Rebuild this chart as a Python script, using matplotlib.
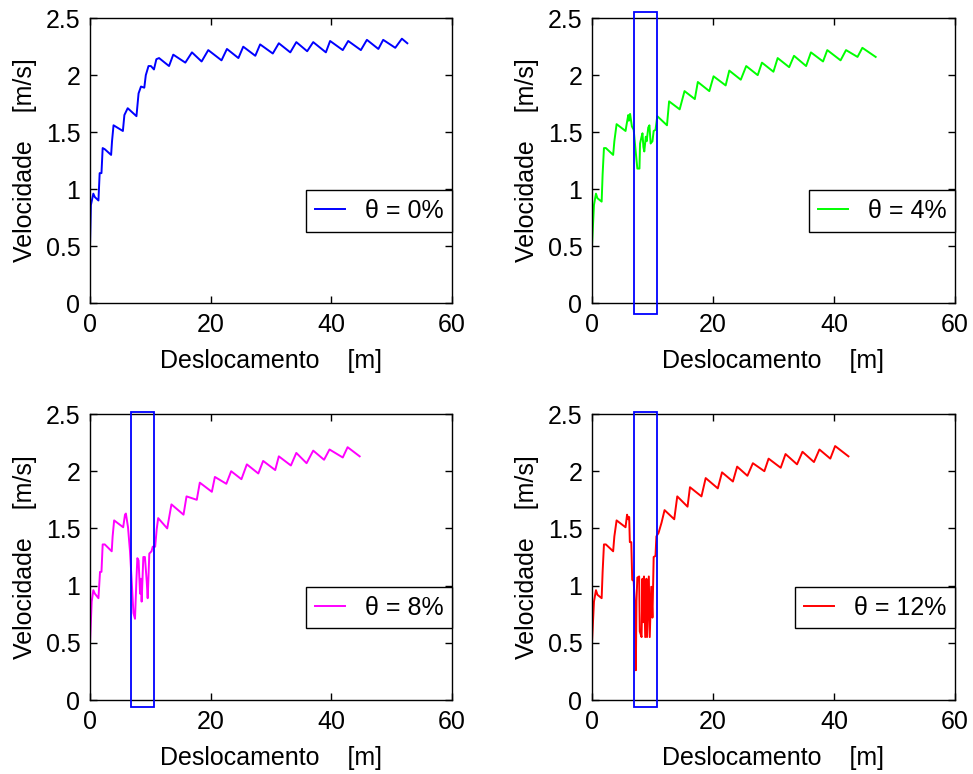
import matplotlib
matplotlib.use("Agg")
import matplotlib.pyplot as plt
from matplotlib.patches import Rectangle

plt.rcParams['font.family'] = ['Liberation Sans', 'DejaVu Sans']
plt.rcParams['font.size'] = 18

# ----------------------
# Data
# ----------------------
x0 = [0, 0, 0.15, 0.55, 0.8, 1.4, 1.6, 1.9, 2.1, 2.45, 3.5, 3.65, 3.9, 5.45, 5.7, 6.25,
      7.7, 8.05, 8.45, 9.0, 9.25, 9.7, 10.1, 10.6, 11.0, 11.45, 13.1, 13.8, 15.8, 16.9,
      18.5, 19.6, 21.8, 22.7, 24.6, 25.4, 27.4, 28.2, 30.3, 31.3, 33.2, 34.2, 36.0, 37.0,
      39.1, 39.8, 41.9, 42.8, 44.9, 45.9, 47.8, 48.6, 50.6, 51.7, 52.6]
v0 = [0, 0.5, 0.86, 0.96, 0.93, 0.90, 1.14, 1.14, 1.36, 1.35, 1.30, 1.42, 1.56, 1.51, 1.65, 1.71,
      1.64, 1.84, 1.90, 1.89, 2.00, 2.08, 2.08, 2.05, 2.14, 2.15, 2.08, 2.18, 2.11, 2.20,
      2.12, 2.22, 2.13, 2.23, 2.15, 2.25, 2.17, 2.27, 2.19, 2.28, 2.20, 2.29, 2.21, 2.29,
      2.20, 2.30, 2.22, 2.30, 2.22, 2.31, 2.23, 2.31, 2.24, 2.32, 2.28]

x4 = [0, 0, 0.33, 0.66, 0.9, 1.6, 1.76, 1.98, 2.3, 3.5, 3.7, 4.07, 5.55, 5.7, 6.0, 6.1, 6.3,
      6.6, 6.9, 7.1, 7.3, 7.5, 7.85, 7.95, 8.2, 8.35, 8.5, 8.65, 8.9, 9.05, 9.3, 9.5, 9.7,
      10.0, 10.2, 10.5, 10.8, 12.4, 12.75, 14.5, 15.3, 17.0, 17.5, 19.4, 20.1, 22.1, 22.7,
      24.6, 25.5, 27.4, 28.1, 30.0, 30.7, 32.6, 33.4, 35.4, 36.2, 38.2, 38.9, 41.1, 42.0,
      43.9, 44.7, 46.9]
v4 = [0, 0.5, 0.86, 0.96, 0.92, 0.89, 1.13, 1.36, 1.36, 1.30, 1.42, 1.57, 1.51, 1.56, 1.65, 1.60, 1.66,
      1.55, 1.52, 1.40, 1.29, 1.18, 1.18, 1.40, 1.46, 1.49, 1.37, 1.33, 1.46, 1.42, 1.54, 1.56, 1.40,
      1.42, 1.51, 1.52, 1.64, 1.56, 1.77, 1.70, 1.86, 1.79, 1.94, 1.86, 1.99, 1.91, 2.04,
      1.96, 2.08, 2.00, 2.11, 2.03, 2.15, 2.07, 2.17, 2.08, 2.20, 2.12, 2.22, 2.13, 2.22,
      2.16, 2.24, 2.16]

x8 = [0, 0, 0.28, 0.55, 0.8, 1.4, 1.66, 1.9, 2.1, 2.45, 3.6, 3.75, 4.0, 5.5, 5.8, 5.95, 6.3,
      6.63, 6.9, 7.2, 7.46, 7.7, 7.85, 8.05, 8.3, 8.45, 8.56, 8.84, 9.1, 9.4, 9.56, 9.67,
      9.83, 10.2, 10.4, 10.8, 11.05, 11.3, 12.8, 13.5, 15.5, 16.0, 17.7, 18.2, 20.2, 20.7,
      22.6, 23.4, 25.1, 26.0, 27.9, 28.7, 30.7, 31.3, 33.3, 34.2, 35.9, 37.0, 38.8, 39.7,
      41.9, 42.7, 44.7]
v8 = [0, 0.5, 0.86, 0.96, 0.93, 0.89, 1.12, 1.12, 1.36, 1.36, 1.30, 1.43, 1.57, 1.51, 1.62, 1.63, 1.51,
      1.30, 1.05, 0.76, 0.71, 1.06, 1.24, 1.22, 0.93, 1.06, 0.86, 1.25, 1.25, 1.04, 0.89, 1.04,
      1.28, 1.30, 1.34, 1.34, 1.49, 1.59, 1.50, 1.71, 1.62, 1.78, 1.75, 1.90, 1.82, 1.95,
      1.89, 2.00, 1.93, 2.06, 1.98, 2.09, 2.01, 2.13, 2.05, 2.16, 2.07, 2.18, 2.10, 2.19,
      2.12, 2.21, 2.13]

x12 = [0, 0, 0.33, 0.66, 0.9, 1.6, 1.76, 1.98, 2.3, 3.5, 3.7, 4.07, 5.55, 5.8, 6.0, 6.15,
       6.26, 6.5, 6.65, 6.9, 7.08, 7.25, 7.36, 7.5, 7.8, 7.9, 8.2, 8.35, 8.46, 8.6, 8.8, 9.0,
       9.1, 9.4, 9.55, 9.8, 10.0, 10.2, 10.5, 10.65, 11.0, 11.5, 12.0, 13.6, 14.1, 15.8, 16.2,
       18.1, 18.8, 20.8, 21.5, 23.3, 24.0, 25.7, 26.6, 28.5, 29.2, 31.2, 32.0, 33.9, 34.8,
       36.7, 37.6, 39.4, 40.2, 42.4]
v12 = [0, 0.5, 0.86, 0.96, 0.92, 0.89, 1.12, 1.36, 1.36, 1.30, 1.43, 1.57, 1.51, 1.62, 1.58, 1.60,
       1.38, 1.38, 1.05, 1.04, 0.82, 0.26, 0.87, 1.07, 1.08, 0.60, 0.55, 1.06, 0.68, 1.08, 0.55, 1.06,
       0.55, 1.08, 0.55, 0.99, 0.72, 1.25, 1.26, 1.43, 1.46, 1.55, 1.66, 1.58, 1.78, 1.69, 1.86,
       1.78, 1.94, 1.85, 1.99, 1.91, 2.04, 1.96, 2.07, 2.00, 2.11, 2.03, 2.15, 2.06, 2.17,
       2.08, 2.19, 2.11, 2.22, 2.13]

labels = ["θ = 0%", "θ = 4%", "θ = 8%", "θ = 12%"]
colors = ["#0000ff", "#00ff00", "#ff00ff", "#ff0000"]
series = [(x0, v0), (x4, v4), (x8, v8), (x12, v12)]
# highlighted region (x0, x1, y0, y1), None for flat case
boxes = [None, (6.9, 10.7, -0.10, 2.55), (6.74, 10.6, -0.065, 2.52), (6.92, 10.71, -0.065, 2.52)]

# ----------------------
# Plot
# ----------------------
fig = plt.figure(figsize=(9.73, 7.74), dpi=100)
positions = [
    [0.0925, 0.6085, 0.372, 0.368],
    [0.6084, 0.6085, 0.373, 0.368],
    [0.0925, 0.0956, 0.372, 0.3695],
    [0.6084, 0.0956, 0.373, 0.3695],
]

for pos, (xs, vs), col, lab, box in zip(positions, series, colors, labels, boxes):
    ax = fig.add_axes(pos)
    ax.plot(xs, vs, color=col, lw=1.4, label=lab)
    ax.set_xlim(0, 60)
    ax.set_ylim(0, 2.5)
    ax.set_xticks([0, 20, 40, 60])
    ax.set_yticks([0, 0.5, 1, 1.5, 2, 2.5])
    ax.set_yticklabels(["0", "0.5", "1", "1.5", "2", "2.5"])
    ax.tick_params(direction='in', top=True, right=True, length=5, width=1, pad=7)
    for s in ax.spines.values():
        s.set_linewidth(1.0)
    ax.set_xlabel("Deslocamento    [m]", labelpad=9)
    ax.set_ylabel("Velocidade    [m/s]", labelpad=6)
    if box is not None:
        bx0, bx1, by0, by1 = box
        ax.add_patch(Rectangle((bx0, by0), bx1 - bx0, by1 - by0, fill=False,
                               edgecolor="#0000ff", lw=1.3, clip_on=False, zorder=5))
    leg = ax.legend(loc='upper right', bbox_to_anchor=(1.0, 0.396), borderaxespad=0,
                    handlelength=1.2, handletextpad=0.8, borderpad=0.35, fancybox=False,
                    framealpha=1, edgecolor='black')
    leg.get_frame().set_linewidth(1.0)

fig.savefig("out.png", dpi=100)
